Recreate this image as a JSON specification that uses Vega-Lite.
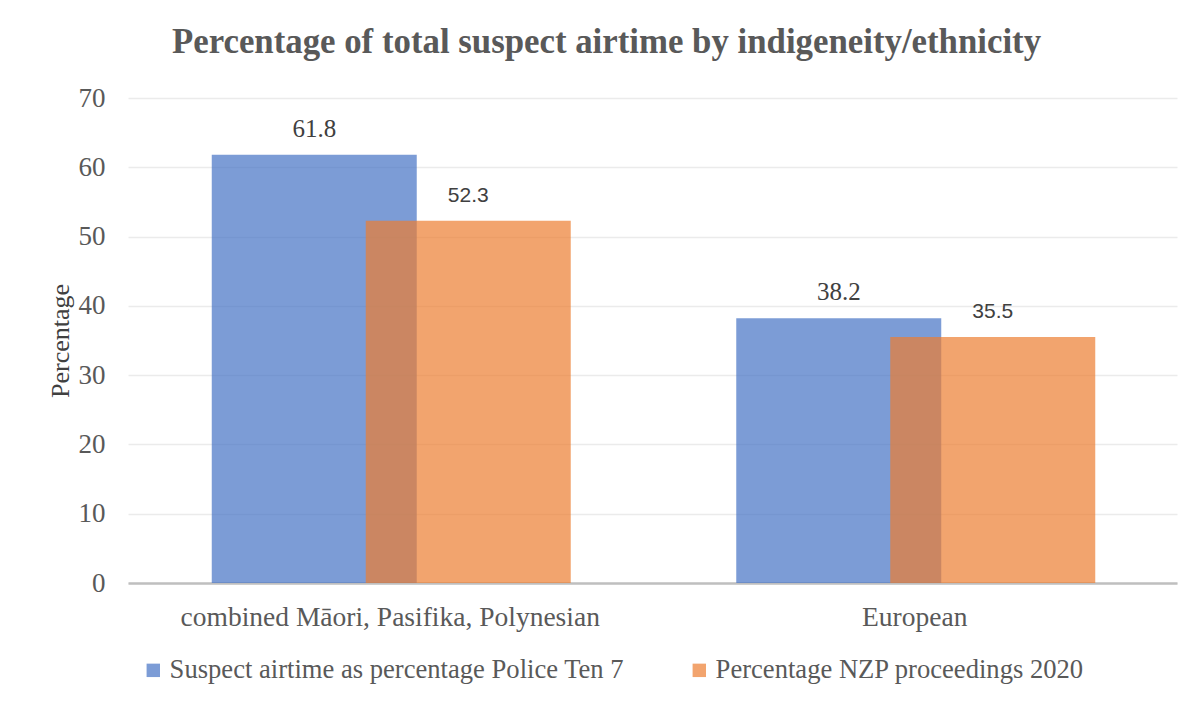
{
  "$schema": "https://vega.github.io/schema/vega-lite/v6.json",
  "width": 1049,
  "height": 485,
  "autosize": {"type": "none"},
  "padding": {"left": 128, "top": 98, "right": 24, "bottom": 121},
  "config": {
    "view": {"stroke": null},
    "font": "Liberation Serif"
  },
  "title": {
    "text": "Percentage of total suspect airtime by indigeneity/ethnicity",
    "font": "Liberation Serif",
    "fontSize": 34.8,
    "fontWeight": "bold",
    "color": "#595959",
    "anchor": "middle",
    "baseline": "alphabetic",
    "offset": 40,
    "dx": -46,
    "dy": 44
  },
  "data": {
    "values": [
      {"group": "combined Māori, Pasifika, Polynesian", "series": "Suspect airtime as percentage Police Ten 7", "value": 61.8},
      {"group": "combined Māori, Pasifika, Polynesian", "series": "Percentage NZP proceedings 2020", "value": 52.3},
      {"group": "European", "series": "Suspect airtime as percentage Police Ten 7", "value": 38.2},
      {"group": "European", "series": "Percentage NZP proceedings 2020", "value": 35.5}
    ]
  },
  "encoding": {
    "x": {
      "field": "group",
      "type": "nominal",
      "sort": null,
      "scale": {"paddingInner": 0, "paddingOuter": 0},
      "axis": {
        "title": null,
        "labelAngle": 0,
        "labelFontSize": 27.5,
        "labelColor": "#595959",
        "labelPadding": 20,
        "labelLimit": 800,
        "ticks": false,
        "domainColor": "#bfbfbf",
        "domainWidth": 2.5
      }
    },
    "y": {
      "field": "value",
      "type": "quantitative",
      "scale": {"domain": [0, 70]},
      "axis": {
        "title": "Percentage",
        "titleFontSize": 26,
        "titleFontWeight": "normal",
        "titleColor": "#404040",
        "titlePadding": 5,
        "values": [0, 10, 20, 30, 40, 50, 60, 70],
        "labelFontSize": 27,
        "labelColor": "#595959",
        "labelPadding": 23,
        "ticks": false,
        "domain": false,
        "gridColor": "#ebebeb",
        "gridWidth": 1.5
      }
    }
  },
  "layer": [
    {
      "transform": [{"filter": "datum.series == 'Suspect airtime as percentage Police Ten 7'"}],
      "mark": {"type": "bar", "width": 205, "xOffset": -76, "opacity": 0.7},
      "encoding": {
        "color": {
          "field": "series",
          "type": "nominal",
          "scale": {
            "domain": ["Suspect airtime as percentage Police Ten 7", "Percentage NZP proceedings 2020"],
            "range": ["#4472c4", "#ed7d31"]
          },
          "legend": {
            "title": null,
            "orient": "none",
            "direction": "horizontal",
            "legendX": 12,
            "legendY": 559,
            "symbolType": "square",
            "symbolSize": 180,
            "symbolOpacity": 0.7,
            "symbolStrokeWidth": 0,
            "labelFontSize": 26.6,
            "labelColor": "#595959",
            "labelOffset": 3,
            "labelLimit": 800,
            "columnPadding": 61
          }
        }
      }
    },
    {
      "transform": [{"filter": "datum.series == 'Percentage NZP proceedings 2020'"}],
      "mark": {"type": "bar", "width": 205, "xOffset": 78, "opacity": 0.7},
      "encoding": {
        "color": {"field": "series", "type": "nominal"}
      }
    },
    {
      "transform": [{"filter": "datum.series == 'Suspect airtime as percentage Police Ten 7'"}],
      "mark": {"type": "text", "xOffset": -76, "dy": -18, "baseline": "alphabetic", "font": "Liberation Serif", "fontSize": 25, "color": "#404040"},
      "encoding": {
        "text": {"field": "value", "type": "quantitative", "format": ".1f"}
      }
    },
    {
      "transform": [{"filter": "datum.series == 'Percentage NZP proceedings 2020'"}],
      "mark": {"type": "text", "xOffset": 78, "dy": -19, "baseline": "alphabetic", "font": "Liberation Sans", "fontSize": 21, "color": "#404040"},
      "encoding": {
        "text": {"field": "value", "type": "quantitative", "format": ".1f"}
      }
    }
  ]
}
